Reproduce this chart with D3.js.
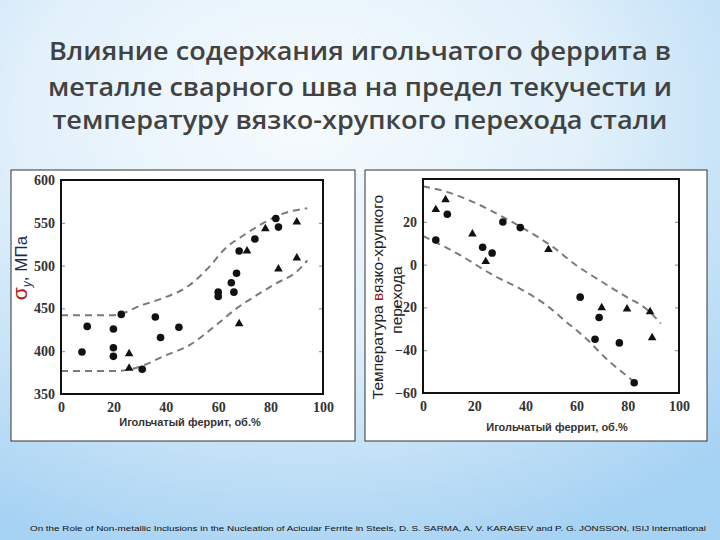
<!DOCTYPE html>
<html><head><meta charset="utf-8">
<script src="https://cdn.jsdelivr.net/npm/d3@7"></script>
<style>html,body{margin:0;padding:0;width:720px;height:540px;overflow:hidden}</style>
</head><body>
<svg id="c" width="720" height="540"></svg>
<script>
const titleLines = ["Влияние содержания игольчатого феррита в","металле сварного шва на предел текучести и","температуру вязко-хрупкого перехода стали"];
const xLabel = "Игольчатый феррит, об.%";
const footer = "On the Role of Non-metallic Inclusions in the Nucleation of Acicular Ferrite in Steels,   D. S. SARMA, A. V. KARASEV and P. G. JÖNSSON, ISIJ International";
const xTicks = [0,20,40,60,80,100];
const leftYTicks = [350,400,450,500,550,600];
const rightYTicks = [-60,-40,-20,0,20];

// Left chart: yield strength (MPa)
const leftCircles = [[8,399],[10,429],[20,426],[20,404],[20,394],[23,443],[31,379],[36,440],[38,416],[45,428],[60,469],[60,464],[65,480],[66,469],[67,491],[68,517],[74,531],[82,555],[83,545]];
const leftTriangles = [[26,397],[26,380],[71,517],[78,543],[90,551],[83,496],[90,509],[68,432]];
const leftUpper = [[0,442],[10,442],[20,442],[31,454],[39,462],[49,477],[57,500],[62,518],[70,536],[78,551],[85,561],[94,567]];
const leftLower = [[0,377],[10,377],[22,377],[31,383],[39,394],[49,407],[59,430],[67,450],[75,466],[82,479],[90,493],[94,506]];

// Right chart: ductile-brittle transition temperature
const rightCircles = [[5,11.5],[9.5,23.5],[23.3,8.1],[27,5.4],[31.2,19.9],[38,17.3],[61.4,-15.2],[68.8,-24.7],[67.2,-34.9],[76.7,-36.6],[82.5,-55.2]];
const rightTriangles = [[5,25.7],[8.8,30.3],[19.3,14.3],[24.5,1.4],[49,7],[69.8,-20.2],[79.7,-20.7],[88.7,-22],[89.5,-34.2]];
const rightUpper = [[0,36.6],[9.3,34],[19.7,29.2],[31.3,22.2],[41.7,15.2],[50.8,8.2],[59.8,-0.3],[68.9,-7.3],[79.3,-15],[87,-20.5],[92.9,-27.5]];
const rightLower = [[0,13.4],[14.5,4.4],[27.5,-5],[37.8,-11.2],[48.2,-19],[56,-26.8],[63.7,-34.5],[71.5,-43.9],[79.3,-51.7],[83.2,-55.5]];

const svg = d3.select("#c");
const defs = svg.append("defs");
const rg = defs.append("radialGradient").attr("id","bg").attr("cx","42%").attr("cy","22%").attr("r","85%");
rg.append("stop").attr("offset","0%").attr("stop-color","#f6fbfe");
rg.append("stop").attr("offset","45%").attr("stop-color","#e3f1fb");
rg.append("stop").attr("offset","100%").attr("stop-color","#a6d2f3");
svg.append("rect").attr("width",720).attr("height",540).attr("fill","url(#bg)");

// Title
const tY = [60,96,129];
titleLines.forEach((t,i)=>{
  svg.append("text").attr("x",360).attr("y",tY[i]).attr("text-anchor","middle")
    .style("font-family","'Open Sans', sans-serif").style("font-weight","600").style("font-size","26px")
    .attr("fill","#424242").attr("textLength",[622,624,615][i]).attr("lengthAdjust","spacingAndGlyphs").text(t);
});

// Footer
svg.append("text").attr("x",30).attr("y",531).style("font-family","Arial, 'Liberation Sans', sans-serif")
  .style("font-size","8px").attr("fill","#111").attr("textLength",676).attr("lengthAdjust","spacingAndGlyphs").text(footer);

const serifTick = s => s.selectAll("text")
  .style("font-family","'Liberation Serif', 'DejaVu Serif', serif").style("font-size","14px").style("font-weight","bold").attr("fill","#333");

function panel(px, pw, plot, yDomain, yTicks, circles, triangles, upper, lower, xLabX, xLabY){
  svg.append("rect").attr("x",px).attr("y",170).attr("width",pw).attr("height",271)
    .attr("fill","#fff").attr("stroke","#333").attr("stroke-width",1);
  const x = d3.scaleLinear().domain([0,100]).range([plot.l, plot.r]);
  const y = d3.scaleLinear().domain(yDomain).range([plot.b, plot.t]);
  const g = svg.append("g");
  const ya = d3.axisRight(y).tickValues(yTicks).tickSize(4).tickFormat("");
  g.append("g").attr("transform",`translate(${plot.l},0)`).call(ya).call(s=>{s.select(".domain").remove();s.selectAll("line").attr("stroke","#888");});
  const yb = d3.axisLeft(y).tickValues(yTicks).tickSize(4).tickFormat("");
  g.append("g").attr("transform",`translate(${plot.r},0)`).call(yb).call(s=>{s.select(".domain").remove();s.selectAll("line").attr("stroke","#888");});
  const yl = d3.axisLeft(y).tickValues(yTicks).tickSize(0).tickPadding(6);
  g.append("g").attr("transform",`translate(${plot.l},0)`).call(yl).call(s=>{s.select(".domain").remove();serifTick(s);});
  const xl = d3.axisBottom(x).tickValues(xTicks).tickSize(0).tickPadding(8);
  g.append("g").attr("transform",`translate(0,${plot.b})`).call(xl).call(s=>{s.select(".domain").remove();serifTick(s);});
  const line = d3.line().x(d=>x(d[0])).y(d=>y(d[1])).curve(d3.curveMonotoneX);
  [upper, lower].forEach(c=>{
    g.append("path").attr("d",line(c)).attr("fill","none").attr("stroke","#7a7a7a").attr("stroke-width",2).attr("stroke-dasharray","7,5");
  });
  g.selectAll(null).data(circles).join("circle").attr("cx",d=>x(d[0])).attr("cy",d=>y(d[1])).attr("r",3.8).attr("fill","#111");
  const tri = d3.symbol().type(d3.symbolTriangle).size(32);
  g.selectAll(null).data(triangles).join("path").attr("d",tri).attr("transform",d=>`translate(${x(d[0])},${y(d[1])})`).attr("fill","#111");
  g.append("rect").attr("x",plot.l).attr("y",plot.t).attr("width",plot.r-plot.l).attr("height",plot.b-plot.t)
    .attr("fill","none").attr("stroke","#111").attr("stroke-width",2);
  svg.append("text").attr("x",xLabX).attr("y",xLabY).attr("text-anchor","middle")
    .style("font-family","'Liberation Sans Narrow', 'Liberation Sans', Arial, sans-serif").style("font-weight","bold")
    .style("font-size","11px").attr("fill","#333").text(xLabel);
}

panel(11, 344, {l:61,r:323,t:180,b:394}, [350,600], leftYTicks, leftCircles, leftTriangles, leftUpper, leftLower, 190, 426);
panel(365, 342, {l:423,r:679,t:179,b:393}, [-60,40], rightYTicks, rightCircles, rightTriangles, rightUpper, rightLower, 557, 431);

// left y label
const ly = svg.append("text").attr("transform","translate(27,268) rotate(-90)").attr("text-anchor","middle")
  .style("font-family","Arial, 'Liberation Sans', sans-serif").style("font-size","17px");
ly.append("tspan").attr("fill","#b01818").style("font-size","21px").text("σ");
ly.append("tspan").attr("fill","#1b2b55").style("font-style","italic").style("font-size","12px").attr("dy",4).text("y");
ly.append("tspan").attr("fill","#1b2b55").attr("dy",-4).text(", МПа");

// right y label
const ry = svg.append("text").attr("transform","translate(383,297) rotate(-90)").attr("text-anchor","middle")
  .style("font-family","Arial, 'Liberation Sans', sans-serif").style("font-size","15.5px").attr("fill","#222");
ry.append("tspan").text("Температура ");
ry.append("tspan").attr("fill","#a01818").text("в");
ry.append("tspan").text("язко-хрупкого");
svg.append("text").attr("transform","translate(402,300) rotate(-90)").attr("text-anchor","middle")
  .style("font-family","Arial, 'Liberation Sans', sans-serif").style("font-size","15.5px").attr("fill","#222").text("перехода");
</script>
</body></html>
